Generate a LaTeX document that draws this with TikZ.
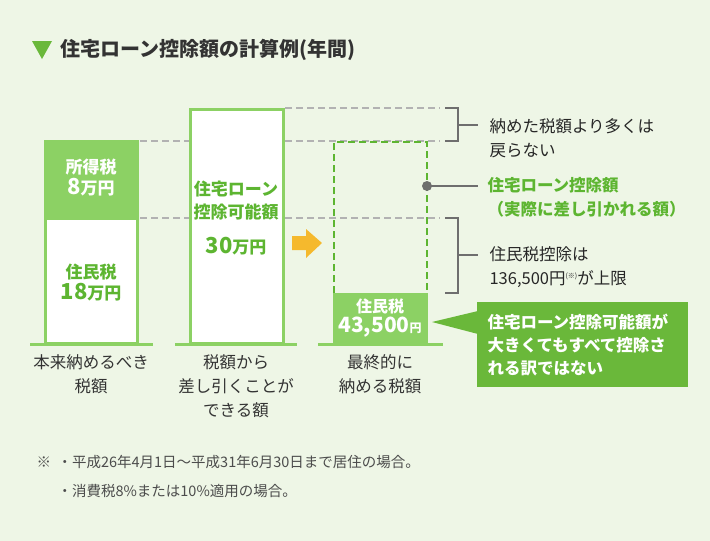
\documentclass[tikz,border=0pt]{standalone}
\usepackage{fontspec}
\setmainfont{Noto Sans CJK JP}
\usetikzlibrary{positioning}
\definecolor{bgcol}{HTML}{EEF6E6}
\definecolor{barcol}{HTML}{8CD164}
\definecolor{darkgrn}{HTML}{6AB83A}
\definecolor{txtgrn}{HTML}{5DB531}
\definecolor{arrcol}{HTML}{F5B92D}
\definecolor{gry}{HTML}{6E6E6E}
\tikzset{
  bar/.style = {draw = barcol, line width = 3pt, fill = white},
  guide/.style = {draw = gray!60, line width = 2pt, dash pattern = on 7pt off 4pt},
  brace/.style = {draw = gry, line width = 2.5pt},
  lbl/.style = {font = \fontsize{16.5}{24}\selectfont, text = black!80, align = center},
  note/.style = {font = \fontsize{16.5}{24}\selectfont, text = black!85, align = left, anchor = west},
  inner/.style = {font = \bfseries\fontsize{17}{23}\selectfont, align = center}
}
\begin{document}
\begin{tikzpicture}[x = 1pt, y = -1pt]
\useasboundingbox[fill = bgcol] (0, 0) rectangle (710, 541);
% title
\fill[darkgrn] (32, 41) -- (52, 41) -- (42, 59) -- cycle;
\node (title) [anchor = west, font = \bfseries\fontsize{20}{22}\selectfont, text = black!80] at (57, 50) {住宅ローン控除額の計算例(年間)};
% guide lines
\draw[guide] (285, 108) to (440, 108);
\draw[guide] (140, 141) to (189, 141);
\draw[guide] (285, 141) to (440, 141);
\draw[guide] (140, 218) to (189, 218);
\draw[guide] (285, 218) to (440, 218);
% bar 1
\draw[bar] (45, 218) rectangle (137, 343);
\fill[barcol] (43.5, 140) rectangle (138.5, 218);
\draw[barcol, line width = 3pt] (30, 344) to (153, 344);
\node (income) [inner, text = white] at (91, 178) {所得税\\[-2pt]{\fontsize{22}{24}\selectfont 8}万円};
\node (resident) [inner, text = txtgrn] at (91, 283) {住民税\\[-2pt]{\fontsize{22}{24}\selectfont 18}万円};
\node (base) [lbl] at (91, 374) {本来納めるべき\\税額};
% bar 2
\draw[bar] (190, 109) rectangle (283, 343);
\draw[barcol, line width = 3pt] (175, 344) to (297, 344);
\node (possible) [inner, text = txtgrn] at (236, 201) {住宅ローン\\控除可能額};
\node (amount) [inner, text = txtgrn] at (236, 246) {{\fontsize{22}{24}\selectfont 30}万円};
\node (deduct) [lbl] at (236, 386) {税額から\\差し引くことが\\できる額};
% arrow
\fill[arrcol] (292, 236) -- (306, 236) -- (306, 229) -- (322, 243) -- (306, 258) -- (306, 250) -- (292, 250) -- cycle;
% bar 3
\draw[txtgrn, line width = 2.5pt, dash pattern = on 7pt off 4pt] (334, 293) -- (334, 142) -- (427, 142) -- (427, 293);
\fill[barcol] (333, 293) rectangle (428, 343);
\draw[barcol, line width = 3pt] (318, 344) to (443, 344);
\node (final) [inner, text = white, font = \bfseries\fontsize{16}{20}\selectfont] at (380, 318) {住民税\\{\fontsize{21}{22}\selectfont 43,500}{\fontsize{12}{12}\selectfont 円}};
\node (finallbl) [lbl] at (380, 374) {最終的に\\納める税額};
% brackets
\draw[brace] (445, 108) -- (458, 108) -- (458, 141) -- (445, 141);
\draw[brace] (458, 125) -- (478, 125);
\draw[brace] (445, 218) -- (458, 218) -- (458, 293) -- (445, 293);
\draw[brace] (458, 255) -- (478, 255);
\coordinate (dot) at (427, 186);
\fill[gry] (dot) circle (5pt);
\draw[brace] (dot) -- (478, 186);
\node (nomore) [note] at (486, 138) {納めた税額より多くは\\戻らない};
\node (actual) [note, font = \bfseries\fontsize{16.5}{24}\selectfont, text = txtgrn] at (484, 197) {住宅ローン控除額\\（実際に差し引かれる額）};
\node (limit) [note] at (486, 267) {住民税控除は\\136,500円\raisebox{6pt}{\fontsize{7}{8}\selectfont (※)}が上限};
% callout
\fill[darkgrn] (477, 302) rectangle (688, 387);
\fill[darkgrn] (432, 322) -- (478, 311) -- (478, 334) -- cycle;
\node (callout) [anchor = west, align = left, text = white, font = \bfseries\fontsize{16.5}{23}\selectfont] at (484, 345) {住宅ローン控除可能額が\\大きくてもすべて控除さ\\れる訳ではない};
% footnote
\node (mark) [anchor = west, font = \fontsize{14.5}{20}\selectfont, text = black!70] at (33, 462) {※};
\node (foot1) [anchor = west, font = \fontsize{14.5}{20}\selectfont, text = black!70] at (54, 462) {・平成26年4月1日～平成31年6月30日まで居住の場合。};
\node (foot2) [anchor = west, font = \fontsize{14.5}{20}\selectfont, text = black!70] at (54, 491) {・消費税8\%または10\%適用の場合。};
\end{tikzpicture}
\end{document}
